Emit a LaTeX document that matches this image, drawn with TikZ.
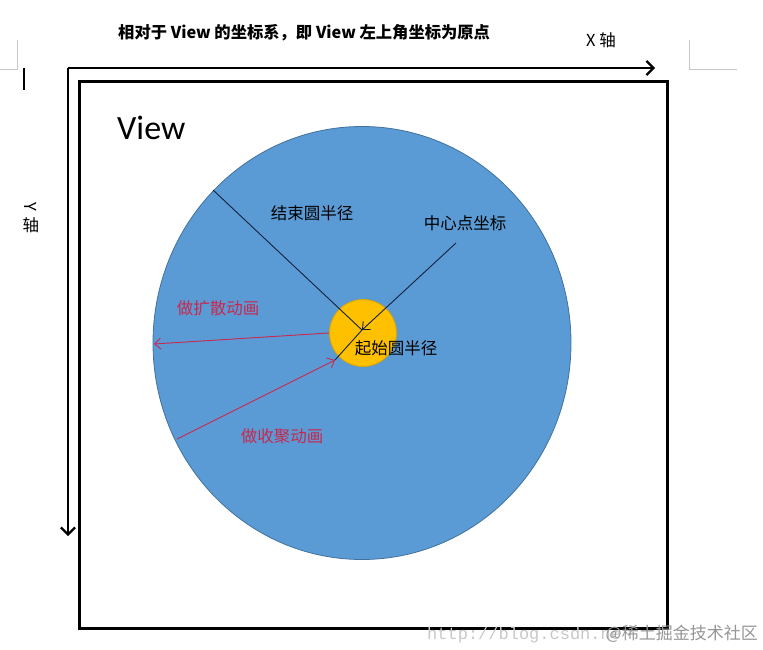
\documentclass[tikz,border=0pt]{standalone}
\usepackage{fontspec}
\setmainfont{Carlito}
\newfontfamily\cjk{Noto Sans CJK SC}
\newfontfamily\wmfont{Liberation Mono}
\usepackage{tikz}
\usetikzlibrary{arrows.meta}
\usetikzlibrary{shapes.geometric}
\usetikzlibrary{positioning}

\definecolor{viewblue}{HTML}{5B9BD5}
\definecolor{viewblueline}{HTML}{41719C}
\definecolor{startgold}{HTML}{FFC000}
\definecolor{startgoldline}{HTML}{D9A300}
\definecolor{animred}{HTML}{C8284E}
\definecolor{ptrnavy}{HTML}{14213D}
\definecolor{markgray}{HTML}{C8C8C8}

\begin{document}
\begin{tikzpicture}[x=1pt, y=-1pt,
    axis/.style={line width=2.6pt, -{Straight Barb[length=7pt, width=14pt, line width=2.2pt]}},
    label/.style={font=\cjk\fontsize{16.5}{19}\selectfont, inner sep=0pt},
    redlabel/.style={label, text=animred},
    ptr/.style={line width=0.9pt, draw=ptrnavy},
    anim/.style={line width=0.9pt, draw=animred, -{Straight Barb[length=6pt, width=11pt]}}]
    \useasboundingbox (0,0) rectangle (763,650);

    % page corner marks
    \draw[markgray, line width=0.8pt] (0,69) -- (17,69) -- (17,40);
    \draw[markgray, line width=0.8pt] (689,40) -- (689,69) -- (737,69);
    \draw[line width=1.5pt] (24,68) -- (24,90);

    % axes
    \coordinate (O) at (68,68);
    \coordinate (xend) at (655,68);
    \coordinate (yend) at (68,536);
    \draw[axis] (O) -- (xend);
    \draw[axis] (O) -- (yend);
    \node[font=\cjk\bfseries\fontsize{16.3}{19}\selectfont, anchor=west, inner sep=0pt] (title) at (118,33) {相对于 View 的坐标系，即 View 左上角坐标为原点};
    \node[label, anchor=west] (xlabel) at (586,40) {X 轴};
    \node[label, rotate=-90] (ylabelY) at (31,207) {Y};
    \node[label] (ylabel) at (31,225) {轴};

    % the view
    \node[draw, line width=2.6pt, minimum width=588pt, minimum height=547pt, anchor=north west] (view) at (78,80) {};
    \node[font=\fontsize{34}{40}\selectfont, anchor=west, inner sep=0pt] (viewname) at (117,128) {View};

    % end circle and start circle
    \node[ellipse, draw=viewblueline, fill=viewblue, line width=0.8pt, minimum width=418pt, minimum height=433pt] (endcircle) at (362,343) {};
    \node[circle, draw=startgoldline, fill=startgold, line width=0.8pt, minimum size=67pt] (startcircle) at (363,333) {};

    \coordinate (c) at (362,330);
    \coordinate (endrim) at (213,190);
    \coordinate (startrim) at (335,360);
    \coordinate (ptrtail) at (456,243);
    \coordinate (spread) at (329,333);
    \coordinate (spreadtip) at (154,344);
    \coordinate (gathertail) at (177,439);

    \draw[ptr] (endrim) -- (c);
    \draw[ptr] (c) -- (startrim);
    \draw[ptr, -{Straight Barb[length=6pt, width=11pt]}] (ptrtail) -- (c);
    \draw[anim] (spread) -- (spreadtip);
    \draw[anim] (gathertail) -- (startrim);

    \node[label] (endtext) at (312,213) {结束圆半径};
    \node[label] (ctrtext) at (465,223) {中心点坐标};
    \node[label] (starttext) at (396,348) {起始圆半径};
    \node[redlabel] (spreadtext) at (218,308) {做扩散动画};
    \node[redlabel] (gathertext) at (282,436) {做收聚动画};

    % watermark
    \node[font=\wmfont\fontsize{17}{19}\selectfont, text=markgray, anchor=west, inner sep=0pt] (wmurl) at (427,635) {http://blog.csdn.ne};
    \node[font=\cjk\fontsize{17}{19}\selectfont, text=markgray!75!black, anchor=east, inner sep=0pt] (wmsite) at (758,634) {@稀土掘金技术社区};
\end{tikzpicture}
\end{document}
